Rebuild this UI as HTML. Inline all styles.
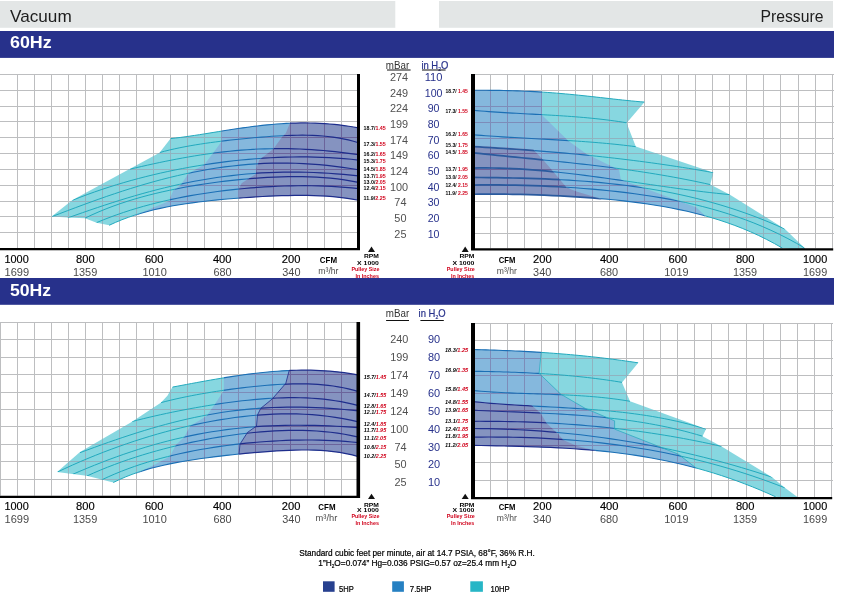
<!DOCTYPE html>
<html lang="en"><head><meta charset="utf-8"><title>Vacuum / Pressure performance curves</title>
<style>html,body{margin:0;padding:0;background:#fff}svg{display:block;will-change:transform}text{font-family:"Liberation Sans", sans-serif}</style>
</head><body>
<svg width="841" height="596" viewBox="0 0 841 596">
<rect width="841" height="596" fill="#fff"/>
<rect x="0" y="1" width="395.3" height="26.8" fill="#e3e6e6"/>
<rect x="439" y="1" width="394" height="26.8" fill="#e3e6e6"/>
<rect x="0" y="31" width="834" height="26.9" fill="#27318b"/>
<rect x="0" y="278" width="834" height="26.8" fill="#27318b"/>
<text x="10" y="21.5" font-size="16.6" fill="#1d1d1d" textLength="61.7" lengthAdjust="spacingAndGlyphs">Vacuum</text>
<text x="823.4" y="21.5" font-size="16.6" fill="#1d1d1d" text-anchor="end" textLength="63" lengthAdjust="spacingAndGlyphs">Pressure</text>
<text x="10" y="48.4" font-size="15.8" fill="#fff" font-weight="bold" textLength="41.7" lengthAdjust="spacingAndGlyphs">60Hz</text>
<text x="10" y="296.4" font-size="15.8" fill="#fff" font-weight="bold" textLength="41.2" lengthAdjust="spacingAndGlyphs">50Hz</text>
<defs><path id="gv60" d="M17.5 74V248M34.5 74V248M51.5 74V248M68.5 74V248M85.5 74V248M102.5 74V248M119.5 74V248M136.5 74V248M153.5 74V248M170.5 74V248M187.5 74V248M204.5 74V248M221.5 74V248M238.5 74V248M256.5 74V248M273.5 74V248M290.5 74V248M307.5 74V248M324.5 74V248M341.5 74V248M0 74.5H357M0 90.5H357M0 106.5H357M0 121.5H357M0 137.5H357M0 153.5H357M0 169.5H357M0 185.5H357M0 201.5H357M0 216.5H357M0 232.5H357"/></defs>
<use href="#gv60" stroke="#bdbec0" stroke-width="1" fill="none"/>
<defs><path id="gp60" d="M490.5 74V248.3M507.5 74V248.3M524.5 74V248.3M541.5 74V248.3M558.5 74V248.3M575.5 74V248.3M592.5 74V248.3M609.5 74V248.3M627.5 74V248.3M644.5 74V248.3M661.5 74V248.3M678.5 74V248.3M695.5 74V248.3M712.5 74V248.3M729.5 74V248.3M746.5 74V248.3M763.5 74V248.3M780.5 74V248.3M798.5 74V248.3M815.5 74V248.3M832.5 74V248.3M475 74.5H834M475 90.5H834M475 106.5H834M475 122.5H834M475 138.5H834M475 153.5H834M475 169.5H834M475 185.5H834M475 201.5H834M475 217.5H834M475 233.5H834"/></defs>
<use href="#gp60" stroke="#bdbec0" stroke-width="1" fill="none"/>
<defs><path id="gv50" d="M0.5 322V495.7M17.5 322V495.7M34.5 322V495.7M51.5 322V495.7M68.5 322V495.7M85.5 322V495.7M102.5 322V495.7M119.5 322V495.7M136.5 322V495.7M153.5 322V495.7M170.5 322V495.7M187.5 322V495.7M204.5 322V495.7M221.5 322V495.7M238.5 322V495.7M255.5 322V495.7M272.5 322V495.7M290.5 322V495.7M307.5 322V495.7M324.5 322V495.7M341.5 322V495.7M0 322.5H357M0 339.5H357M0 357.5H357M0 374.5H357M0 392.5H357M0 409.5H357M0 426.5H357M0 444.5H357M0 461.5H357M0 479.5H357"/></defs>
<use href="#gv50" stroke="#bdbec0" stroke-width="1" fill="none"/>
<defs><path id="gp50" d="M490.5 323V497M507.5 323V497M524.5 323V497M541.5 323V497M558.5 323V497M575.5 323V497M592.5 323V497M609.5 323V497M626.5 323V497M643.5 323V497M660.5 323V497M677.5 323V497M694.5 323V497M711.5 323V497M728.5 323V497M746.5 323V497M763.5 323V497M780.5 323V497M797.5 323V497M814.5 323V497M831.5 323V497M475 323.5H833M475 340.5H833M475 358.5H833M475 375.5H833M475 393.5H833M475 410.5H833M475 428.5H833M475 445.5H833M475 462.5H833M475 480.5H833"/></defs>
<use href="#gp50" stroke="#bdbec0" stroke-width="1" fill="none"/>
<defs>
<path id="bv60" d="M358.5 127.84 L353.68 126.99 L348.86 126.23 L344.05 125.54 L339.23 124.94 L334.41 124.42 L329.59 123.98 L324.77 123.62 L319.96 123.33 L315.14 123.13 L310.32 122.99 L305.5 122.94 L300.68 122.95 L295.87 123.04 L291.05 123.19 L286.23 123.41 L281.41 123.69 L276.59 124.04 L271.78 124.44 L266.96 124.89 L262.14 125.4 L257.32 125.95 L252.51 126.54 L247.69 127.18 L242.87 127.85 L238.05 128.55 L233.23 129.28 L228.42 130.02 L223.6 130.79 L218.78 131.56 L213.96 132.34 L209.14 133.12 L204.33 133.9 L199.51 134.66 L194.69 135.4 L189.87 136.12 L185.05 136.81 L180.24 137.46 L175.42 138.06 L170.6 138.61 L30 69 L30 254 L109.1 225.32 L115.49 222.4 L121.89 219.75 L128.28 217.35 L134.68 215.18 L141.07 213.21 L147.47 211.42 L153.86 209.81 L160.26 208.35 L166.65 207.02 L173.05 205.82 L179.44 204.73 L185.84 203.74 L192.23 202.83 L198.63 202 L205.02 201.23 L211.42 200.53 L217.81 199.88 L224.21 199.28 L230.6 198.72 L237 198.2 L243.39 197.73 L249.79 197.29 L256.18 196.88 L262.58 196.52 L268.97 196.2 L275.37 195.93 L281.76 195.7 L288.16 195.54 L294.55 195.44 L300.95 195.4 L307.34 195.45 L313.74 195.6 L320.13 195.84 L326.53 196.2 L332.92 196.69 L339.32 197.33 L345.71 198.13 L352.11 199.1 L358.5 200.27 Z"/>
<clipPath id="p10v60"><polygon points="362,100 170.6,100 170.6,138.6 159.5,152.7 72.5,200 51.65,216.6 67.5,217.4 85,218.3 96.6,222.7 109.1,225.2 109.1,262 362,262"/></clipPath>
<clipPath id="p75v60"><polygon points="362,100 221.4,100 221.4,141.7 212.8,153.4 204.4,164.4 188.4,173.6 180.8,185 173.3,190.5 170,198.2 170,200.8 152,208.06 133,216.33 133,262 362,262"/></clipPath>
<clipPath id="p5v60"><polygon points="362,100 289.9,100 289.9,123.3 285.8,133.3 282.4,136.6 273.3,149.1 259.1,159.9 256.6,168.3 255.8,174.1 241.6,183.2 239.1,188.2 239.1,262 362,262"/></clipPath>
<clipPath id="cbv60"><use href="#bv60"/></clipPath>
<clipPath id="x10v60"><path clip-rule="evenodd" d="M362 100 L170.6 100 L170.6 138.6 L159.5 152.7 L72.5 200 L51.65 216.6 L67.5 217.4 L85 218.3 L96.6 222.7 L109.1 225.2 L109.1 262 L362 262ZM362 100 L221.4 100 L221.4 141.7 L212.8 153.4 L204.4 164.4 L188.4 173.6 L180.8 185 L173.3 190.5 L170 198.2 L170 200.8 L152 208.06 L133 216.33 L133 262 L362 262Z"/></clipPath>
<clipPath id="x75v60"><path clip-rule="evenodd" d="M362 100 L221.4 100 L221.4 141.7 L212.8 153.4 L204.4 164.4 L188.4 173.6 L180.8 185 L173.3 190.5 L170 198.2 L170 200.8 L152 208.06 L133 216.33 L133 262 L362 262ZM362 100 L289.9 100 L289.9 123.3 L285.8 133.3 L282.4 136.6 L273.3 149.1 L259.1 159.9 L256.6 168.3 L255.8 174.1 L241.6 183.2 L239.1 188.2 L239.1 262 L362 262Z"/></clipPath>
<path id="cv60" d="M358.5 127.84 L353.68 126.99 L348.86 126.23 L344.05 125.54 L339.23 124.94 L334.41 124.42 L329.59 123.98 L324.77 123.62 L319.96 123.33 L315.14 123.13 L310.32 122.99 L305.5 122.94 L300.68 122.95 L295.87 123.04 L291.05 123.19 L286.23 123.41 L281.41 123.69 L276.59 124.04 L271.78 124.44 L266.96 124.89 L262.14 125.4 L257.32 125.95 L252.51 126.54 L247.69 127.18 L242.87 127.85 L238.05 128.55 L233.23 129.28 L228.42 130.02 L223.6 130.79 L218.78 131.56 L213.96 132.34 L209.14 133.12 L204.33 133.9 L199.51 134.66 L194.69 135.4 L189.87 136.12 L185.05 136.81 L180.24 137.46 L175.42 138.06 L170.6 138.61M358.5 142.73 L353.4 141.22 L348.29 139.92 L343.19 138.82 L338.09 137.89 L332.99 137.12 L327.88 136.5 L322.78 136.02 L317.68 135.66 L312.58 135.42 L307.47 135.27 L302.37 135.22 L297.27 135.25 L292.17 135.35 L287.06 135.51 L281.96 135.73 L276.86 136.01 L271.76 136.32 L266.65 136.68 L261.55 137.08 L256.45 137.51 L251.35 137.96 L246.24 138.45 L241.14 138.96 L236.04 139.5 L230.94 140.06 L225.83 140.66 L220.73 141.28 L215.63 141.93 L210.53 142.61 L205.42 143.34 L200.32 144.11 L195.22 144.92 L190.12 145.79 L185.01 146.72 L179.91 147.73 L174.81 148.8 L169.71 149.97 L164.6 151.23 L159.5 152.6M358.5 154.78 L352.64 153.91 L346.78 153.11 L340.92 152.37 L335.06 151.69 L329.21 151.07 L323.35 150.52 L317.49 150.04 L311.63 149.62 L305.77 149.28 L299.91 149 L294.05 148.79 L288.19 148.66 L282.33 148.6 L276.47 148.61 L270.62 148.69 L264.76 148.84 L258.9 149.06 L253.04 149.36 L247.18 149.72 L241.32 150.16 L235.46 150.66 L229.6 151.22 L223.74 151.86 L217.88 152.55 L212.03 153.31 L206.17 154.13 L200.31 155.01 L194.45 155.94 L188.59 156.93 L182.73 157.97 L176.87 159.06 L171.01 160.19 L165.15 161.37 L159.29 162.59 L153.44 163.84 L147.58 165.12 L141.72 166.44 L135.86 167.78 L130 169.14M358.5 160.03 L351.17 159.25 L343.83 158.59 L336.5 158.04 L329.17 157.61 L321.83 157.28 L314.5 157.06 L307.17 156.94 L299.83 156.92 L292.5 156.99 L285.17 157.16 L277.83 157.42 L270.5 157.77 L263.17 158.2 L255.83 158.72 L248.5 159.33 L241.17 160.02 L233.83 160.8 L226.5 161.65 L219.17 162.59 L211.83 163.61 L204.5 164.71 L197.17 165.9 L189.83 167.17 L182.5 168.52 L175.17 169.96 L167.83 171.49 L160.5 173.1 L153.17 174.8 L145.83 176.6 L138.5 178.49 L131.17 180.48 L123.83 182.57 L116.5 184.76 L109.17 187.05 L101.83 189.46 L94.5 191.98 L87.17 194.62 L79.83 197.38 L72.5 200.26M358.5 169.78 L350.63 168.48 L342.76 167.32 L334.9 166.3 L327.03 165.41 L319.16 164.66 L311.29 164.06 L303.42 163.59 L295.56 163.27 L287.69 163.1 L279.82 163.07 L271.95 163.18 L264.08 163.44 L256.22 163.85 L248.35 164.4 L240.48 165.1 L232.61 165.94 L224.74 166.91 L216.88 168.03 L209.01 169.28 L201.14 170.67 L193.27 172.19 L185.41 173.84 L177.54 175.61 L169.67 177.5 L161.8 179.51 L153.93 181.63 L146.07 183.85 L138.2 186.18 L130.33 188.6 L122.46 191.12 L114.59 193.72 L106.73 196.39 L98.86 199.14 L90.99 201.96 L83.12 204.83 L75.25 207.75 L67.39 210.71 L59.52 213.7 L51.65 216.72M358.5 175.82 L351.04 175.06 L343.58 174.39 L336.12 173.79 L328.65 173.27 L321.19 172.85 L313.73 172.51 L306.27 172.27 L298.81 172.13 L291.35 172.09 L283.88 172.15 L276.42 172.31 L268.96 172.58 L261.5 172.96 L254.04 173.45 L246.58 174.05 L239.12 174.76 L231.65 175.58 L224.19 176.51 L216.73 177.55 L209.27 178.7 L201.81 179.96 L194.35 181.33 L186.88 182.8 L179.42 184.37 L171.96 186.05 L164.5 187.82 L157.04 189.69 L149.58 191.65 L142.12 193.69 L134.65 195.83 L127.19 198.04 L119.73 200.33 L112.27 202.69 L104.81 205.11 L97.35 207.6 L89.88 210.14 L82.42 212.72 L74.96 215.35 L67.5 218.01M358.5 182.41 L351.49 181.06 L344.47 179.91 L337.46 178.96 L330.45 178.19 L323.44 177.58 L316.42 177.13 L309.41 176.82 L302.4 176.64 L295.38 176.58 L288.37 176.63 L281.36 176.79 L274.35 177.05 L267.33 177.4 L260.32 177.83 L253.31 178.35 L246.29 178.94 L239.28 179.61 L232.27 180.35 L225.26 181.16 L218.24 182.04 L211.23 183 L204.22 184.02 L197.21 185.12 L190.19 186.3 L183.18 187.57 L176.17 188.92 L169.15 190.36 L162.14 191.9 L155.13 193.55 L148.12 195.31 L141.1 197.2 L134.09 199.22 L127.08 201.38 L120.06 203.71 L113.05 206.2 L106.04 208.87 L99.03 211.74 L92.01 214.82 L85 218.13M358.5 188.58 L351.78 187.89 L345.07 187.3 L338.35 186.81 L331.64 186.42 L324.92 186.12 L318.21 185.9 L311.49 185.77 L304.78 185.72 L298.06 185.74 L291.35 185.84 L284.63 186.02 L277.92 186.26 L271.2 186.57 L264.48 186.95 L257.77 187.4 L251.05 187.91 L244.34 188.49 L237.62 189.14 L230.91 189.85 L224.19 190.64 L217.48 191.49 L210.76 192.42 L204.05 193.42 L197.33 194.5 L190.62 195.66 L183.9 196.9 L177.18 198.22 L170.47 199.64 L163.75 201.15 L157.04 202.75 L150.32 204.47 L143.61 206.29 L136.89 208.23 L130.18 210.28 L123.46 212.47 L116.75 214.79 L110.03 217.24 L103.32 219.85 L96.6 222.62M358.5 200.27 L352.11 199.1 L345.71 198.13 L339.32 197.33 L332.92 196.69 L326.53 196.2 L320.13 195.84 L313.74 195.6 L307.34 195.45 L300.95 195.4 L294.55 195.44 L288.16 195.54 L281.76 195.7 L275.37 195.93 L268.97 196.2 L262.58 196.52 L256.18 196.88 L249.79 197.29 L243.39 197.73 L237 198.2 L230.6 198.72 L224.21 199.28 L217.81 199.88 L211.42 200.53 L205.02 201.23 L198.63 202 L192.23 202.83 L185.84 203.74 L179.44 204.73 L173.05 205.82 L166.65 207.02 L160.26 208.35 L153.86 209.81 L147.47 211.42 L141.07 213.21 L134.68 215.18 L128.28 217.35 L121.89 219.75 L115.49 222.4 L109.1 225.32" fill="none"/>
</defs>
<g opacity="0.56" clip-path="url(#p10v60)">
<use href="#bv60" fill="#29b8c8"/>
<g clip-path="url(#p75v60)"><use href="#bv60" fill="#2680c2"/></g>
<g clip-path="url(#p5v60)"><use href="#bv60" fill="#27408f"/></g>
</g>
<g clip-path="url(#cbv60)" fill="none" stroke-width="1"><g clip-path="url(#p10v60)">
<use href="#gv60" stroke="#8fb3c0"/>
<g clip-path="url(#p75v60)"><use href="#gv60" stroke="#7d8cb9"/>
<g clip-path="url(#p5v60)"><use href="#gv60" stroke="#6b649b"/></g></g>
</g></g>
<g stroke-linecap="butt">
<g clip-path="url(#x10v60)"><use href="#cv60" stroke="#22a9bd" stroke-width="1"/></g>
<g clip-path="url(#x75v60)"><use href="#cv60" stroke="#1b6fb5" stroke-width="1.1"/></g>
<g clip-path="url(#p5v60)"><use href="#cv60" stroke="#1e2d8c" stroke-width="1.2"/></g>
</g>
<defs>
<path id="bv50" d="M358.5 375.08 L353.73 374.19 L348.96 373.41 L344.18 372.71 L339.41 372.11 L334.64 371.59 L329.87 371.15 L325.1 370.8 L320.33 370.53 L315.55 370.33 L310.78 370.21 L306.01 370.15 L301.24 370.17 L296.47 370.25 L291.69 370.4 L286.92 370.6 L282.15 370.87 L277.38 371.19 L272.61 371.56 L267.84 371.98 L263.06 372.46 L258.29 372.97 L253.52 373.53 L248.75 374.13 L243.98 374.77 L239.21 375.44 L234.43 376.14 L229.66 376.88 L224.89 377.64 L220.12 378.43 L215.35 379.24 L210.57 380.07 L205.8 380.91 L201.03 381.78 L196.26 382.65 L191.49 383.53 L186.72 384.43 L181.94 385.32 L177.17 386.22 L172.4 387.12 L30 317 L30 502 L113.2 482.56 L119.49 479.54 L125.78 476.82 L132.07 474.36 L138.36 472.14 L144.65 470.14 L150.94 468.33 L157.23 466.69 L163.52 465.2 L169.81 463.84 L176.1 462.61 L182.39 461.47 L188.68 460.42 L194.97 459.45 L201.26 458.55 L207.55 457.69 L213.84 456.89 L220.13 456.13 L226.42 455.41 L232.71 454.72 L238.99 454.06 L245.28 453.44 L251.57 452.85 L257.86 452.29 L264.15 451.78 L270.44 451.32 L276.73 450.9 L283.02 450.55 L289.31 450.28 L295.6 450.09 L301.89 450 L308.18 450.02 L314.47 450.17 L320.76 450.47 L327.05 450.93 L333.34 451.59 L339.63 452.45 L345.92 453.55 L352.21 454.9 L358.5 456.55 Z"/>
<clipPath id="p10v50"><polygon points="362,340 172.4,340 172.4,387.1 167.4,395.8 160.8,402.8 131.6,422 80,451.9 57.1,471.9 72.5,474.1 86.6,475.7 101.6,479.6 113.2,482.4 113.2,510 362,510"/></clipPath>
<clipPath id="p75v50"><polygon points="362,340 223.8,340 223.8,390.5 215.4,403.6 206.6,416.1 190.2,426.1 184.4,436.8 175.8,444.9 169.9,456.5 153,465.57 135.5,473.72 135.5,510 362,510"/></clipPath>
<clipPath id="p5v50"><polygon points="362,340 289.1,340 289.1,370.8 285.8,383.3 272.4,398.8 260.8,408.3 257.5,414.9 256.5,426 247.5,432.4 240,444.1 239.1,453.3 239.1,510 362,510"/></clipPath>
<clipPath id="cbv50"><use href="#bv50"/></clipPath>
<clipPath id="x10v50"><path clip-rule="evenodd" d="M362 340 L172.4 340 L172.4 387.1 L167.4 395.8 L160.8 402.8 L131.6 422 L80 451.9 L57.1 471.9 L72.5 474.1 L86.6 475.7 L101.6 479.6 L113.2 482.4 L113.2 510 L362 510ZM362 340 L223.8 340 L223.8 390.5 L215.4 403.6 L206.6 416.1 L190.2 426.1 L184.4 436.8 L175.8 444.9 L169.9 456.5 L153 465.57 L135.5 473.72 L135.5 510 L362 510Z"/></clipPath>
<clipPath id="x75v50"><path clip-rule="evenodd" d="M362 340 L223.8 340 L223.8 390.5 L215.4 403.6 L206.6 416.1 L190.2 426.1 L184.4 436.8 L175.8 444.9 L169.9 456.5 L153 465.57 L135.5 473.72 L135.5 510 L362 510ZM362 340 L289.1 340 L289.1 370.8 L285.8 383.3 L272.4 398.8 L260.8 408.3 L257.5 414.9 L256.5 426 L247.5 432.4 L240 444.1 L239.1 453.3 L239.1 510 L362 510Z"/></clipPath>
<path id="cv50" d="M358.5 375.08 L353.73 374.19 L348.96 373.41 L344.18 372.71 L339.41 372.11 L334.64 371.59 L329.87 371.15 L325.1 370.8 L320.33 370.53 L315.55 370.33 L310.78 370.21 L306.01 370.15 L301.24 370.17 L296.47 370.25 L291.69 370.4 L286.92 370.6 L282.15 370.87 L277.38 371.19 L272.61 371.56 L267.84 371.98 L263.06 372.46 L258.29 372.97 L253.52 373.53 L248.75 374.13 L243.98 374.77 L239.21 375.44 L234.43 376.14 L229.66 376.88 L224.89 377.64 L220.12 378.43 L215.35 379.24 L210.57 380.07 L205.8 380.91 L201.03 381.78 L196.26 382.65 L191.49 383.53 L186.72 384.43 L181.94 385.32 L177.17 386.22 L172.4 387.12M358.5 391.6 L353.43 390.14 L348.36 388.86 L343.29 387.75 L338.22 386.81 L333.15 386.01 L328.08 385.36 L323.02 384.84 L317.95 384.44 L312.88 384.15 L307.81 383.96 L302.74 383.86 L297.67 383.86 L292.6 383.93 L287.53 384.08 L282.46 384.29 L277.39 384.57 L272.32 384.9 L267.25 385.29 L262.18 385.72 L257.12 386.2 L252.05 386.72 L246.98 387.28 L241.91 387.87 L236.84 388.5 L231.77 389.16 L226.7 389.86 L221.63 390.59 L216.56 391.36 L211.49 392.16 L206.42 393 L201.35 393.87 L196.28 394.79 L191.22 395.75 L186.15 396.76 L181.08 397.82 L176.01 398.94 L170.94 400.12 L165.87 401.37 L160.8 402.68M358.5 405.65 L352.68 404.17 L346.86 402.86 L341.05 401.71 L335.23 400.73 L329.41 399.91 L323.59 399.22 L317.77 398.67 L311.96 398.25 L306.14 397.95 L300.32 397.76 L294.5 397.68 L288.68 397.7 L282.87 397.81 L277.05 398.01 L271.23 398.3 L265.41 398.66 L259.59 399.1 L253.78 399.61 L247.96 400.18 L242.14 400.81 L236.32 401.5 L230.51 402.24 L224.69 403.04 L218.87 403.88 L213.05 404.77 L207.23 405.71 L201.42 406.69 L195.6 407.71 L189.78 408.77 L183.96 409.87 L178.14 411.01 L172.33 412.19 L166.51 413.41 L160.69 414.67 L154.87 415.98 L149.05 417.32 L143.24 418.71 L137.42 420.15 L131.6 421.64M358.5 410.9 L351.36 410.17 L344.22 409.5 L337.08 408.9 L329.94 408.38 L322.79 407.94 L315.65 407.59 L308.51 407.33 L301.37 407.17 L294.23 407.1 L287.09 407.14 L279.95 407.28 L272.81 407.52 L265.67 407.88 L258.53 408.34 L251.38 408.91 L244.24 409.6 L237.1 410.4 L229.96 411.31 L222.82 412.33 L215.68 413.46 L208.54 414.71 L201.4 416.06 L194.26 417.53 L187.12 419.09 L179.97 420.76 L172.83 422.53 L165.69 424.4 L158.55 426.36 L151.41 428.4 L144.27 430.54 L137.13 432.75 L129.99 435.04 L122.85 437.4 L115.71 439.82 L108.56 442.3 L101.42 444.83 L94.28 447.41 L87.14 450.02 L80 452.66M358.5 421.95 L350.77 420.18 L343.04 418.64 L335.32 417.34 L327.59 416.25 L319.86 415.38 L312.13 414.71 L304.4 414.24 L296.67 413.95 L288.95 413.84 L281.22 413.91 L273.49 414.14 L265.76 414.53 L258.03 415.07 L250.31 415.76 L242.58 416.59 L234.85 417.56 L227.12 418.67 L219.39 419.9 L211.66 421.26 L203.94 422.74 L196.21 424.34 L188.48 426.05 L180.75 427.88 L173.02 429.82 L165.29 431.87 L157.57 434.03 L149.84 436.3 L142.11 438.68 L134.38 441.17 L126.65 443.76 L118.93 446.46 L111.2 449.27 L103.47 452.19 L95.74 455.23 L88.01 458.38 L80.28 461.65 L72.56 465.04 L64.83 468.55 L57.1 472.19M358.5 427.53 L351.17 427.06 L343.83 426.62 L336.5 426.23 L329.17 425.9 L321.83 425.63 L314.5 425.42 L307.17 425.29 L299.83 425.23 L292.5 425.25 L285.17 425.35 L277.83 425.54 L270.5 425.83 L263.17 426.21 L255.83 426.69 L248.5 427.28 L241.17 427.97 L233.83 428.76 L226.5 429.67 L219.17 430.68 L211.83 431.81 L204.5 433.05 L197.17 434.41 L189.83 435.88 L182.5 437.47 L175.17 439.17 L167.83 440.99 L160.5 442.92 L153.17 444.96 L145.83 447.12 L138.5 449.39 L131.17 451.77 L123.83 454.25 L116.5 456.84 L109.17 459.53 L101.83 462.32 L94.5 465.21 L87.17 468.19 L79.83 471.25 L72.5 474.41M358.5 437.09 L351.53 435.57 L344.56 434.26 L337.58 433.16 L330.61 432.26 L323.64 431.54 L316.67 431 L309.7 430.62 L302.73 430.4 L295.75 430.32 L288.78 430.38 L281.81 430.57 L274.84 430.89 L267.87 431.31 L260.89 431.85 L253.92 432.49 L246.95 433.24 L239.98 434.07 L233.01 435.01 L226.04 436.03 L219.06 437.13 L212.09 438.33 L205.12 439.6 L198.15 440.96 L191.18 442.41 L184.21 443.94 L177.23 445.56 L170.26 447.26 L163.29 449.06 L156.32 450.95 L149.35 452.93 L142.37 455.02 L135.4 457.22 L128.43 459.53 L121.46 461.96 L114.49 464.52 L107.52 467.21 L100.54 470.04 L93.57 473.02 L86.6 476.16M358.5 442.67 L351.91 441.98 L345.33 441.4 L338.74 440.93 L332.15 440.57 L325.56 440.29 L318.98 440.11 L312.39 440.02 L305.8 440.01 L299.22 440.07 L292.63 440.22 L286.04 440.44 L279.45 440.73 L272.87 441.08 L266.28 441.51 L259.69 442.01 L253.11 442.57 L246.52 443.2 L239.93 443.89 L233.34 444.66 L226.76 445.49 L220.17 446.4 L213.58 447.38 L206.99 448.44 L200.41 449.58 L193.82 450.8 L187.23 452.11 L180.65 453.52 L174.06 455.02 L167.47 456.62 L160.88 458.34 L154.3 460.17 L147.71 462.12 L141.12 464.2 L134.54 466.42 L127.95 468.79 L121.36 471.31 L114.77 473.99 L108.19 476.85 L101.6 479.89M358.5 456.55 L352.21 454.9 L345.92 453.55 L339.63 452.45 L333.34 451.59 L327.05 450.93 L320.76 450.47 L314.47 450.17 L308.18 450.02 L301.89 450 L295.6 450.09 L289.31 450.28 L283.02 450.55 L276.73 450.9 L270.44 451.32 L264.15 451.78 L257.86 452.29 L251.57 452.85 L245.28 453.44 L238.99 454.06 L232.71 454.72 L226.42 455.41 L220.13 456.13 L213.84 456.89 L207.55 457.69 L201.26 458.55 L194.97 459.45 L188.68 460.42 L182.39 461.47 L176.1 462.61 L169.81 463.84 L163.52 465.2 L157.23 466.69 L150.94 468.33 L144.65 470.14 L138.36 472.14 L132.07 474.36 L125.78 476.82 L119.49 479.54 L113.2 482.56" fill="none"/>
</defs>
<g opacity="0.56" clip-path="url(#p10v50)">
<use href="#bv50" fill="#29b8c8"/>
<g clip-path="url(#p75v50)"><use href="#bv50" fill="#2680c2"/></g>
<g clip-path="url(#p5v50)"><use href="#bv50" fill="#27408f"/></g>
</g>
<g clip-path="url(#cbv50)" fill="none" stroke-width="1"><g clip-path="url(#p10v50)">
<use href="#gv50" stroke="#8fb3c0"/>
<g clip-path="url(#p75v50)"><use href="#gv50" stroke="#7d8cb9"/>
<g clip-path="url(#p5v50)"><use href="#gv50" stroke="#6b649b"/></g></g>
</g></g>
<g stroke-linecap="butt">
<g clip-path="url(#x10v50)"><use href="#cv50" stroke="#22a9bd" stroke-width="1"/></g>
<g clip-path="url(#x75v50)"><use href="#cv50" stroke="#1b6fb5" stroke-width="1.1"/></g>
<g clip-path="url(#p5v50)"><use href="#cv50" stroke="#1e2d8c" stroke-width="1.2"/></g>
</g>
<g clip-path="url(#cbv50)"><polygon points="362,340 289.1,340 289.1,370.8 285.8,383.3 272.4,398.8 260.8,408.3 257.5,414.9 256.5,426 247.5,432.4 240,444.1 239.1,453.3 239.1,510 362,510" fill="none" stroke="#1e2d8c" stroke-width="0.8"/></g>
<defs>
<path id="bp60" d="M473 90.31 L477.4 90.3 L481.8 90.3 L486.2 90.3 L490.6 90.33 L495 90.36 L499.4 90.42 L503.8 90.49 L508.2 90.59 L512.6 90.7 L517 90.84 L521.4 91 L525.8 91.18 L530.2 91.39 L534.6 91.62 L539 91.88 L543.4 92.16 L547.8 92.46 L552.2 92.79 L556.6 93.14 L561 93.51 L565.4 93.9 L569.8 94.31 L574.2 94.74 L578.6 95.18 L583 95.64 L587.4 96.11 L591.8 96.59 L596.2 97.08 L600.6 97.58 L605 98.07 L609.4 98.57 L613.8 99.06 L618.2 99.55 L622.6 100.02 L627 100.48 L631.4 100.92 L635.8 101.34 L640.2 101.74 L644.6 102.1 L840 69 L840 254 L782.4 248.09 L774.47 243.57 L766.53 239.38 L758.6 235.48 L750.67 231.87 L742.73 228.53 L734.8 225.44 L726.87 222.58 L718.93 219.95 L711 217.52 L703.07 215.28 L695.13 213.23 L687.2 211.33 L679.27 209.6 L671.33 208.01 L663.4 206.55 L655.47 205.21 L647.53 203.99 L639.6 202.87 L631.67 201.85 L623.73 200.91 L615.8 200.06 L607.87 199.28 L599.93 198.58 L592 197.93 L584.07 197.35 L576.13 196.82 L568.2 196.34 L560.27 195.91 L552.33 195.53 L544.4 195.19 L536.47 194.9 L528.53 194.65 L520.6 194.45 L512.67 194.29 L504.73 194.18 L496.8 194.11 L488.87 194.1 L480.93 194.14 L473 194.24 Z"/>
<clipPath id="p10p60"><polygon points="470,60 644.6,60 644.6,102.1 626.6,122.9 635.8,146.6 713.3,172.5 710.3,184.6 729.6,194.6 784.9,229.1 804.9,248.2 804.9,249 470,249"/></clipPath>
<clipPath id="p75p60"><polygon points="470,60 541.9,60 541.9,115 568.2,140.7 586.5,154.1 619.1,170 620.8,179.6 696.5,207.4 704.9,215.8 704.9,262 470,262"/></clipPath>
<clipPath id="p5p60"><polygon points="470,145.41 473.33,145.6 476.66,145.78 479.99,145.97 483.33,146.16 486.66,146.36 489.99,146.56 493.32,146.76 496.65,146.97 499.98,147.18 503.32,147.39 506.65,147.61 509.98,147.83 513.31,148.06 516.64,148.29 519.97,148.52 523.31,148.76 526.64,149 529.97,149.25 533.3,149.5 543.2,159.9 548.2,165.8 558.2,177.5 566.5,187.5 576.5,191.6 601.5,199.1 601.5,262 470,262"/></clipPath>
<clipPath id="cbp60"><use href="#bp60"/></clipPath>
<clipPath id="x10p60"><path clip-rule="evenodd" d="M470 60 L644.6 60 L644.6 102.1 L626.6 122.9 L635.8 146.6 L713.3 172.5 L710.3 184.6 L729.6 194.6 L784.9 229.1 L804.9 248.2 L804.9 249 L470 249ZM470 60 L541.9 60 L541.9 115 L568.2 140.7 L586.5 154.1 L619.1 170 L620.8 179.6 L696.5 207.4 L704.9 215.8 L704.9 262 L470 262Z"/></clipPath>
<clipPath id="x75p60"><path clip-rule="evenodd" d="M470 60 L541.9 60 L541.9 115 L568.2 140.7 L586.5 154.1 L619.1 170 L620.8 179.6 L696.5 207.4 L704.9 215.8 L704.9 262 L470 262ZM470 145.41 L473.33 145.6 L476.66 145.78 L479.99 145.97 L483.33 146.16 L486.66 146.36 L489.99 146.56 L493.32 146.76 L496.65 146.97 L499.98 147.18 L503.32 147.39 L506.65 147.61 L509.98 147.83 L513.31 148.06 L516.64 148.29 L519.97 148.52 L523.31 148.76 L526.64 149 L529.97 149.25 L533.3 149.5 L543.2 159.9 L548.2 165.8 L558.2 177.5 L566.5 187.5 L576.5 191.6 L601.5 199.1 L601.5 262 L470 262Z"/></clipPath>
<path id="cp60" d="M473 90.31 L477.4 90.3 L481.8 90.3 L486.2 90.3 L490.6 90.33 L495 90.36 L499.4 90.42 L503.8 90.49 L508.2 90.59 L512.6 90.7 L517 90.84 L521.4 91 L525.8 91.18 L530.2 91.39 L534.6 91.62 L539 91.88 L543.4 92.16 L547.8 92.46 L552.2 92.79 L556.6 93.14 L561 93.51 L565.4 93.9 L569.8 94.31 L574.2 94.74 L578.6 95.18 L583 95.64 L587.4 96.11 L591.8 96.59 L596.2 97.08 L600.6 97.58 L605 98.07 L609.4 98.57 L613.8 99.06 L618.2 99.55 L622.6 100.02 L627 100.48 L631.4 100.92 L635.8 101.34 L640.2 101.74 L644.6 102.1M473 110.32 L476.94 110.66 L480.88 110.99 L484.82 111.3 L488.75 111.59 L492.69 111.87 L496.63 112.13 L500.57 112.39 L504.51 112.63 L508.45 112.86 L512.38 113.08 L516.32 113.3 L520.26 113.52 L524.2 113.72 L528.14 113.93 L532.08 114.14 L536.02 114.35 L539.95 114.56 L543.89 114.77 L547.83 115 L551.77 115.22 L555.71 115.46 L559.65 115.7 L563.58 115.96 L567.52 116.23 L571.46 116.51 L575.4 116.81 L579.34 117.13 L583.28 117.46 L587.22 117.81 L591.15 118.19 L595.09 118.59 L599.03 119.01 L602.97 119.46 L606.91 119.93 L610.85 120.44 L614.78 120.97 L618.72 121.54 L622.66 122.14 L626.6 122.77M473 134.75 L477.17 135.08 L481.35 135.41 L485.52 135.71 L489.7 136.01 L493.87 136.29 L498.05 136.56 L502.22 136.83 L506.39 137.08 L510.57 137.33 L514.74 137.57 L518.92 137.8 L523.09 138.03 L527.27 138.26 L531.44 138.48 L535.62 138.71 L539.79 138.93 L543.96 139.16 L548.14 139.39 L552.31 139.62 L556.49 139.85 L560.66 140.1 L564.84 140.34 L569.01 140.6 L573.18 140.87 L577.36 141.14 L581.53 141.43 L585.71 141.73 L589.88 142.04 L594.06 142.37 L598.23 142.71 L602.41 143.07 L606.58 143.45 L610.75 143.85 L614.93 144.26 L619.1 144.7 L623.28 145.16 L627.45 145.65 L631.63 146.15 L635.8 146.69M473 146.58 L479.16 146.92 L485.32 147.28 L491.48 147.65 L497.65 148.03 L503.81 148.42 L509.97 148.83 L516.13 149.25 L522.29 149.68 L528.45 150.13 L534.62 150.6 L540.78 151.08 L546.94 151.58 L553.1 152.09 L559.26 152.62 L565.42 153.16 L571.58 153.73 L577.75 154.31 L583.91 154.91 L590.07 155.53 L596.23 156.17 L602.39 156.83 L608.55 157.51 L614.72 158.21 L620.88 158.93 L627.04 159.68 L633.2 160.44 L639.36 161.23 L645.52 162.04 L651.68 162.87 L657.85 163.73 L664.01 164.61 L670.17 165.52 L676.33 166.45 L682.49 167.41 L688.65 168.39 L694.82 169.4 L700.98 170.43 L707.14 171.5 L713.3 172.59M473 152.8 L479.08 153.44 L485.17 154.07 L491.25 154.69 L497.34 155.31 L503.42 155.92 L509.51 156.53 L515.59 157.14 L521.68 157.75 L527.76 158.35 L533.85 158.96 L539.93 159.58 L546.02 160.2 L552.1 160.82 L558.18 161.46 L564.27 162.1 L570.35 162.76 L576.44 163.43 L582.52 164.11 L588.61 164.82 L594.69 165.53 L600.78 166.27 L606.86 167.03 L612.95 167.81 L619.03 168.62 L625.12 169.45 L631.2 170.31 L637.28 171.19 L643.37 172.11 L649.45 173.06 L655.54 174.04 L661.62 175.05 L667.71 176.1 L673.79 177.19 L679.88 178.32 L685.96 179.49 L692.05 180.7 L698.13 181.96 L704.22 183.26 L710.3 184.6M473 168.07 L479.58 167.96 L486.16 167.94 L492.74 168 L499.32 168.13 L505.9 168.34 L512.48 168.62 L519.06 168.97 L525.64 169.38 L532.22 169.85 L538.79 170.38 L545.37 170.96 L551.95 171.59 L558.53 172.27 L565.11 172.98 L571.69 173.74 L578.27 174.54 L584.85 175.36 L591.43 176.22 L598.01 177.1 L604.59 178 L611.17 178.92 L617.75 179.85 L624.33 180.8 L630.91 181.75 L637.49 182.71 L644.07 183.67 L650.65 184.62 L657.23 185.57 L663.81 186.51 L670.38 187.44 L676.96 188.35 L683.54 189.24 L690.12 190.1 L696.7 190.94 L703.28 191.75 L709.86 192.53 L716.44 193.26 L723.02 193.96 L729.6 194.61M473 177.41 L481 177.49 L488.99 177.58 L496.99 177.69 L504.99 177.82 L512.99 177.98 L520.98 178.17 L528.98 178.39 L536.98 178.65 L544.98 178.96 L552.97 179.31 L560.97 179.71 L568.97 180.17 L576.97 180.69 L584.96 181.27 L592.96 181.92 L600.96 182.65 L608.96 183.45 L616.95 184.33 L624.95 185.3 L632.95 186.35 L640.95 187.5 L648.94 188.75 L656.94 190.1 L664.94 191.56 L672.94 193.13 L680.93 194.81 L688.93 196.61 L696.93 198.53 L704.93 200.59 L712.92 202.77 L720.92 205.09 L728.92 207.55 L736.92 210.15 L744.91 212.91 L752.91 215.81 L760.91 218.88 L768.91 222.1 L776.9 225.49 L784.9 229.05M473 185.08 L481.51 184.97 L490.02 184.93 L498.53 184.95 L507.04 185.03 L515.55 185.18 L524.06 185.38 L532.57 185.64 L541.08 185.96 L549.59 186.34 L558.1 186.77 L566.61 187.27 L575.12 187.82 L583.63 188.45 L592.14 189.14 L600.65 189.9 L609.16 190.73 L617.67 191.64 L626.18 192.64 L634.69 193.73 L643.21 194.92 L651.72 196.21 L660.23 197.61 L668.74 199.13 L677.25 200.77 L685.76 202.56 L694.27 204.48 L702.78 206.57 L711.29 208.82 L719.8 211.25 L728.31 213.87 L736.82 216.69 L745.33 219.72 L753.84 222.98 L762.35 226.49 L770.86 230.25 L779.37 234.28 L787.88 238.6 L796.39 243.23 L804.9 248.17M473 194.24 L480.93 194.14 L488.87 194.1 L496.8 194.11 L504.73 194.18 L512.67 194.29 L520.6 194.45 L528.53 194.65 L536.47 194.9 L544.4 195.19 L552.33 195.53 L560.27 195.91 L568.2 196.34 L576.13 196.82 L584.07 197.35 L592 197.93 L599.93 198.58 L607.87 199.28 L615.8 200.06 L623.73 200.91 L631.67 201.85 L639.6 202.87 L647.53 203.99 L655.47 205.21 L663.4 206.55 L671.33 208.01 L679.27 209.6 L687.2 211.33 L695.13 213.23 L703.07 215.28 L711 217.52 L718.93 219.95 L726.87 222.58 L734.8 225.44 L742.73 228.53 L750.67 231.87 L758.6 235.48 L766.53 239.38 L774.47 243.57 L782.4 248.09" fill="none"/>
</defs>
<g opacity="0.56" clip-path="url(#p10p60)">
<use href="#bp60" fill="#29b8c8"/>
<g clip-path="url(#p75p60)"><use href="#bp60" fill="#2680c2"/></g>
<g clip-path="url(#p5p60)"><use href="#bp60" fill="#27408f"/></g>
</g>
<g clip-path="url(#cbp60)" fill="none" stroke-width="1"><g clip-path="url(#p10p60)">
<use href="#gp60" stroke="#8fb3c0"/>
<g clip-path="url(#p75p60)"><use href="#gp60" stroke="#7d8cb9"/>
<g clip-path="url(#p5p60)"><use href="#gp60" stroke="#6b649b"/></g></g>
</g></g>
<g stroke-linecap="butt">
<g clip-path="url(#x10p60)"><use href="#cp60" stroke="#22a9bd" stroke-width="1"/></g>
<g clip-path="url(#x75p60)"><use href="#cp60" stroke="#1b6fb5" stroke-width="1.1"/></g>
<g clip-path="url(#p5p60)"><use href="#cp60" stroke="#2a5a9e" stroke-width="1.7"/></g>
</g>
<defs>
<path id="bp50" d="M473 349.57 L477.24 349.66 L481.48 349.76 L485.72 349.87 L489.95 350 L494.19 350.13 L498.43 350.28 L502.67 350.43 L506.91 350.6 L511.15 350.78 L515.38 350.97 L519.62 351.17 L523.86 351.39 L528.1 351.62 L532.34 351.86 L536.58 352.11 L540.82 352.38 L545.05 352.66 L549.29 352.96 L553.53 353.27 L557.77 353.6 L562.01 353.94 L566.25 354.29 L570.48 354.66 L574.72 355.05 L578.96 355.45 L583.2 355.86 L587.44 356.3 L591.68 356.75 L595.92 357.21 L600.15 357.7 L604.39 358.2 L608.63 358.72 L612.87 359.25 L617.11 359.81 L621.35 360.38 L625.58 360.97 L629.82 361.59 L634.06 362.21 L638.3 362.86 L840 317 L840 502 L775.7 496.83 L767.94 493.35 L760.18 490.02 L752.42 486.83 L744.65 483.8 L736.89 480.9 L729.13 478.15 L721.37 475.54 L713.61 473.07 L705.85 470.74 L698.08 468.54 L690.32 466.47 L682.56 464.53 L674.8 462.71 L667.04 461.01 L659.28 459.44 L651.52 457.97 L643.75 456.62 L635.99 455.38 L628.23 454.23 L620.47 453.19 L612.71 452.24 L604.95 451.38 L597.18 450.61 L589.42 449.91 L581.66 449.29 L573.9 448.74 L566.14 448.26 L558.38 447.83 L550.62 447.46 L542.85 447.13 L535.09 446.85 L527.33 446.6 L519.57 446.38 L511.81 446.18 L504.05 446 L496.28 445.83 L488.52 445.66 L480.76 445.48 L473 445.29 Z"/>
<clipPath id="p10p50"><polygon points="470,340 638.3,340 638.3,362.8 622,382.4 630,401.2 706.1,429.1 702.5,436.2 721.6,446.4 772.4,477.4 784.9,487.7 797.4,496.9 797.4,497.2 470,497.2"/></clipPath>
<clipPath id="p75p50"><polygon points="470,340 541.2,340 541.2,352.5 539.1,373.3 560.7,394.1 584.9,408.2 614.6,420.8 614.6,429.1 678.2,454.1 696.5,468.3 696.5,510 470,510"/></clipPath>
<clipPath id="p5p50"><polygon points="470,400.59 473.24,400.93 476.48,401.26 479.73,401.58 482.97,401.89 486.21,402.18 489.45,402.46 492.69,402.72 495.94,402.98 499.18,403.23 502.42,403.46 505.66,403.69 508.91,403.91 512.15,404.12 515.39,404.32 518.63,404.52 521.87,404.71 525.12,404.9 528.36,405.08 531.6,405.26 539.9,412.4 543.2,417.5 546.6,423.3 558.2,434.1 563.2,440 576.5,445.8 595.7,450.8 595.7,510 470,510"/></clipPath>
<clipPath id="cbp50"><use href="#bp50"/></clipPath>
<clipPath id="x10p50"><path clip-rule="evenodd" d="M470 340 L638.3 340 L638.3 362.8 L622 382.4 L630 401.2 L706.1 429.1 L702.5 436.2 L721.6 446.4 L772.4 477.4 L784.9 487.7 L797.4 496.9 L797.4 497.2 L470 497.2ZM470 340 L541.2 340 L541.2 352.5 L539.1 373.3 L560.7 394.1 L584.9 408.2 L614.6 420.8 L614.6 429.1 L678.2 454.1 L696.5 468.3 L696.5 510 L470 510Z"/></clipPath>
<clipPath id="x75p50"><path clip-rule="evenodd" d="M470 340 L541.2 340 L541.2 352.5 L539.1 373.3 L560.7 394.1 L584.9 408.2 L614.6 420.8 L614.6 429.1 L678.2 454.1 L696.5 468.3 L696.5 510 L470 510ZM470 400.59 L473.24 400.93 L476.48 401.26 L479.73 401.58 L482.97 401.89 L486.21 402.18 L489.45 402.46 L492.69 402.72 L495.94 402.98 L499.18 403.23 L502.42 403.46 L505.66 403.69 L508.91 403.91 L512.15 404.12 L515.39 404.32 L518.63 404.52 L521.87 404.71 L525.12 404.9 L528.36 405.08 L531.6 405.26 L539.9 412.4 L543.2 417.5 L546.6 423.3 L558.2 434.1 L563.2 440 L576.5 445.8 L595.7 450.8 L595.7 510 L470 510Z"/></clipPath>
<path id="cp50" d="M473 349.57 L477.24 349.66 L481.48 349.76 L485.72 349.87 L489.95 350 L494.19 350.13 L498.43 350.28 L502.67 350.43 L506.91 350.6 L511.15 350.78 L515.38 350.97 L519.62 351.17 L523.86 351.39 L528.1 351.62 L532.34 351.86 L536.58 352.11 L540.82 352.38 L545.05 352.66 L549.29 352.96 L553.53 353.27 L557.77 353.6 L562.01 353.94 L566.25 354.29 L570.48 354.66 L574.72 355.05 L578.96 355.45 L583.2 355.86 L587.44 356.3 L591.68 356.75 L595.92 357.21 L600.15 357.7 L604.39 358.2 L608.63 358.72 L612.87 359.25 L617.11 359.81 L621.35 360.38 L625.58 360.97 L629.82 361.59 L634.06 362.21 L638.3 362.86M473 371.27 L476.82 371.33 L480.64 371.39 L484.46 371.46 L488.28 371.54 L492.1 371.63 L495.92 371.72 L499.74 371.82 L503.56 371.93 L507.38 372.05 L511.21 372.18 L515.03 372.32 L518.85 372.47 L522.67 372.63 L526.49 372.8 L530.31 372.99 L534.13 373.19 L537.95 373.4 L541.77 373.62 L545.59 373.86 L549.41 374.12 L553.23 374.38 L557.05 374.67 L560.87 374.97 L564.69 375.28 L568.51 375.62 L572.33 375.97 L576.15 376.34 L579.97 376.73 L583.79 377.13 L587.62 377.56 L591.44 378.01 L595.26 378.47 L599.08 378.96 L602.9 379.47 L606.72 380 L610.54 380.55 L614.36 381.13 L618.18 381.73 L622 382.35M473 390.52 L477.03 390.89 L481.05 391.23 L485.08 391.54 L489.1 391.82 L493.13 392.08 L497.15 392.31 L501.18 392.53 L505.21 392.73 L509.23 392.91 L513.26 393.08 L517.28 393.24 L521.31 393.38 L525.33 393.52 L529.36 393.65 L533.38 393.79 L537.41 393.91 L541.44 394.04 L545.46 394.18 L549.49 394.31 L553.51 394.46 L557.54 394.61 L561.56 394.77 L565.59 394.95 L569.62 395.14 L573.64 395.35 L577.67 395.58 L581.69 395.83 L585.72 396.11 L589.74 396.41 L593.77 396.74 L597.79 397.1 L601.82 397.49 L605.85 397.91 L609.87 398.37 L613.9 398.87 L617.92 399.41 L621.95 399.99 L625.97 400.62 L630 401.29M473 401.61 L478.98 402.21 L484.95 402.77 L490.93 403.28 L496.91 403.75 L502.88 404.19 L508.86 404.6 L514.84 404.99 L520.82 405.35 L526.79 405.7 L532.77 406.03 L538.75 406.35 L544.72 406.67 L550.7 406.99 L556.68 407.31 L562.65 407.64 L568.63 407.98 L574.61 408.34 L580.58 408.72 L586.56 409.13 L592.54 409.56 L598.52 410.03 L604.49 410.54 L610.47 411.09 L616.45 411.69 L622.42 412.33 L628.4 413.03 L634.38 413.8 L640.35 414.62 L646.33 415.51 L652.31 416.48 L658.28 417.52 L664.26 418.64 L670.24 419.85 L676.22 421.14 L682.19 422.53 L688.17 424.02 L694.15 425.61 L700.12 427.3 L706.1 429.11M473 410.2 L478.88 410.48 L484.77 410.75 L490.65 411.01 L496.54 411.25 L502.42 411.49 L508.31 411.73 L514.19 411.96 L520.08 412.19 L525.96 412.43 L531.85 412.68 L537.73 412.94 L543.62 413.21 L549.5 413.5 L555.38 413.81 L561.27 414.13 L567.15 414.49 L573.04 414.87 L578.92 415.28 L584.81 415.73 L590.69 416.21 L596.58 416.73 L602.46 417.3 L608.35 417.91 L614.23 418.57 L620.12 419.28 L626 420.04 L631.88 420.86 L637.77 421.74 L643.65 422.68 L649.54 423.69 L655.42 424.77 L661.31 425.92 L667.19 427.14 L673.08 428.44 L678.96 429.82 L684.85 431.28 L690.73 432.83 L696.62 434.47 L702.5 436.2M473 421.29 L479.37 421.27 L485.75 421.28 L492.12 421.32 L498.5 421.39 L504.87 421.48 L511.25 421.61 L517.62 421.77 L523.99 421.96 L530.37 422.18 L536.74 422.43 L543.12 422.72 L549.49 423.04 L555.87 423.39 L562.24 423.78 L568.62 424.2 L574.99 424.66 L581.36 425.16 L587.74 425.69 L594.11 426.26 L600.49 426.87 L606.86 427.51 L613.24 428.2 L619.61 428.93 L625.98 429.69 L632.36 430.5 L638.73 431.34 L645.11 432.23 L651.48 433.17 L657.86 434.14 L664.23 435.16 L670.61 436.22 L676.98 437.33 L683.35 438.48 L689.73 439.68 L696.1 440.93 L702.48 442.22 L708.85 443.56 L715.23 444.95 L721.6 446.39M473 428.5 L480.68 428.56 L488.35 428.68 L496.03 428.86 L503.71 429.1 L511.38 429.4 L519.06 429.76 L526.74 430.18 L534.42 430.65 L542.09 431.19 L549.77 431.79 L557.45 432.46 L565.12 433.18 L572.8 433.97 L580.48 434.81 L588.15 435.73 L595.83 436.7 L603.51 437.74 L611.18 438.84 L618.86 440.01 L626.54 441.24 L634.22 442.53 L641.89 443.89 L649.57 445.32 L657.25 446.81 L664.92 448.37 L672.6 449.99 L680.28 451.68 L687.95 453.44 L695.63 455.27 L703.31 457.16 L710.98 459.12 L718.66 461.15 L726.34 463.25 L734.02 465.42 L741.69 467.66 L749.37 469.96 L757.05 472.34 L764.72 474.79 L772.4 477.3M473 437.14 L481 437.05 L488.99 437.02 L496.99 437.03 L504.99 437.1 L512.99 437.23 L520.98 437.42 L528.98 437.66 L536.98 437.97 L544.98 438.35 L552.97 438.79 L560.97 439.29 L568.97 439.87 L576.97 440.52 L584.96 441.23 L592.96 442.03 L600.96 442.9 L608.96 443.84 L616.95 444.87 L624.95 445.98 L632.95 447.17 L640.95 448.44 L648.94 449.8 L656.94 451.25 L664.94 452.79 L672.94 454.42 L680.93 456.15 L688.93 457.96 L696.93 459.88 L704.93 461.89 L712.92 464 L720.92 466.22 L728.92 468.54 L736.92 470.96 L744.91 473.49 L752.91 476.13 L760.91 478.88 L768.91 481.74 L776.9 484.72 L784.9 487.81M473 445.29 L480.76 445.48 L488.52 445.66 L496.28 445.83 L504.05 446 L511.81 446.18 L519.57 446.38 L527.33 446.6 L535.09 446.85 L542.85 447.13 L550.62 447.46 L558.38 447.83 L566.14 448.26 L573.9 448.74 L581.66 449.29 L589.42 449.91 L597.18 450.61 L604.95 451.38 L612.71 452.24 L620.47 453.19 L628.23 454.23 L635.99 455.38 L643.75 456.62 L651.52 457.97 L659.28 459.44 L667.04 461.01 L674.8 462.71 L682.56 464.53 L690.32 466.47 L698.08 468.54 L705.85 470.74 L713.61 473.07 L721.37 475.54 L729.13 478.15 L736.89 480.9 L744.65 483.8 L752.42 486.83 L760.18 490.02 L767.94 493.35 L775.7 496.83" fill="none"/>
</defs>
<g opacity="0.56" clip-path="url(#p10p50)">
<use href="#bp50" fill="#29b8c8"/>
<g clip-path="url(#p75p50)"><use href="#bp50" fill="#2680c2"/></g>
<g clip-path="url(#p5p50)"><use href="#bp50" fill="#27408f"/></g>
</g>
<g clip-path="url(#cbp50)" fill="none" stroke-width="1"><g clip-path="url(#p10p50)">
<use href="#gp50" stroke="#8fb3c0"/>
<g clip-path="url(#p75p50)"><use href="#gp50" stroke="#7d8cb9"/>
<g clip-path="url(#p5p50)"><use href="#gp50" stroke="#6b649b"/></g></g>
</g></g>
<g stroke-linecap="butt">
<g clip-path="url(#x10p50)"><use href="#cp50" stroke="#22a9bd" stroke-width="1"/></g>
<g clip-path="url(#x75p50)"><use href="#cp50" stroke="#1b6fb5" stroke-width="1.1"/></g>
<g clip-path="url(#p5p50)"><use href="#cp50" stroke="#1e2d8c" stroke-width="1.2"/></g>
</g>
<g clip-path="url(#cbp50)"><polygon points="470,340 541.2,340 541.2,352.5 539.1,373.3 560.7,394.1 584.9,408.2 614.6,420.8 614.6,429.1 678.2,454.1 696.5,468.3 696.5,510 470,510" fill="none" stroke="#22a9bd" stroke-width="0.7"/></g>
<path d="M0 250.3 H360 V74 H357 V248 H0 Z" fill="#000"/>
<path d="M833.2 250.5 H471 V74 H475 V248.3 H833.2 Z" fill="#000"/>
<path d="M0 498 H360.1 V322 H356.5 V495.7 H0 Z" fill="#000"/>
<path d="M832.2 499.3 H471 V323 H475 V497 H832.2 Z" fill="#000"/>
<text x="4.5" y="262.5" font-size="10.6" fill="#000" textLength="24.2" lengthAdjust="spacingAndGlyphs" stroke="#000" stroke-width="0.15">1000</text>
<text x="4.5" y="275.7" font-size="10.6" fill="#4a4a4a" textLength="24.6" lengthAdjust="spacingAndGlyphs">1699</text>
<text x="85.3" y="262.5" font-size="10.6" fill="#000" text-anchor="middle" textLength="18.6" lengthAdjust="spacingAndGlyphs" stroke="#000" stroke-width="0.15">800</text>
<text x="85.1" y="275.7" font-size="10.6" fill="#4a4a4a" text-anchor="middle" textLength="24.4" lengthAdjust="spacingAndGlyphs">1359</text>
<text x="154.2" y="262.5" font-size="10.6" fill="#000" text-anchor="middle" textLength="18.6" lengthAdjust="spacingAndGlyphs" stroke="#000" stroke-width="0.15">600</text>
<text x="154.6" y="275.7" font-size="10.6" fill="#4a4a4a" text-anchor="middle" textLength="24.4" lengthAdjust="spacingAndGlyphs">1010</text>
<text x="222.2" y="262.5" font-size="10.6" fill="#000" text-anchor="middle" textLength="18.6" lengthAdjust="spacingAndGlyphs" stroke="#000" stroke-width="0.15">400</text>
<text x="222.6" y="275.7" font-size="10.6" fill="#4a4a4a" text-anchor="middle" textLength="18.2" lengthAdjust="spacingAndGlyphs">680</text>
<text x="291.1" y="262.5" font-size="10.6" fill="#000" text-anchor="middle" textLength="18.6" lengthAdjust="spacingAndGlyphs" stroke="#000" stroke-width="0.15">200</text>
<text x="291.4" y="275.7" font-size="10.6" fill="#4a4a4a" text-anchor="middle" textLength="18.2" lengthAdjust="spacingAndGlyphs">340</text>
<text x="328.4" y="262.5" font-size="9.4" fill="#000" font-weight="bold" text-anchor="middle" textLength="17.2" lengthAdjust="spacingAndGlyphs">CFM</text>
<text x="328.4" y="274.4" font-size="9.2" fill="#4a4a4a" text-anchor="middle" textLength="20.2" lengthAdjust="spacingAndGlyphs">m³/hr</text>
<text x="542.4" y="262.5" font-size="10.6" fill="#000" text-anchor="middle" textLength="18.6" lengthAdjust="spacingAndGlyphs" stroke="#000" stroke-width="0.15">200</text>
<text x="542.2" y="275.7" font-size="10.6" fill="#4a4a4a" text-anchor="middle" textLength="18.2" lengthAdjust="spacingAndGlyphs">340</text>
<text x="609.2" y="262.5" font-size="10.6" fill="#000" text-anchor="middle" textLength="18.6" lengthAdjust="spacingAndGlyphs" stroke="#000" stroke-width="0.15">400</text>
<text x="609" y="275.7" font-size="10.6" fill="#4a4a4a" text-anchor="middle" textLength="18.2" lengthAdjust="spacingAndGlyphs">680</text>
<text x="677.8" y="262.5" font-size="10.6" fill="#000" text-anchor="middle" textLength="18.6" lengthAdjust="spacingAndGlyphs" stroke="#000" stroke-width="0.15">600</text>
<text x="676.4" y="275.7" font-size="10.6" fill="#4a4a4a" text-anchor="middle" textLength="24.2" lengthAdjust="spacingAndGlyphs">1019</text>
<text x="745.2" y="262.5" font-size="10.6" fill="#000" text-anchor="middle" textLength="18.6" lengthAdjust="spacingAndGlyphs" stroke="#000" stroke-width="0.15">800</text>
<text x="745" y="275.7" font-size="10.6" fill="#4a4a4a" text-anchor="middle" textLength="24.2" lengthAdjust="spacingAndGlyphs">1359</text>
<text x="815.1" y="262.5" font-size="10.6" fill="#000" text-anchor="middle" textLength="24.2" lengthAdjust="spacingAndGlyphs" stroke="#000" stroke-width="0.15">1000</text>
<text x="815.1" y="275.7" font-size="10.6" fill="#4a4a4a" text-anchor="middle" textLength="24.2" lengthAdjust="spacingAndGlyphs">1699</text>
<text x="507" y="262.5" font-size="9.4" fill="#000" font-weight="bold" text-anchor="middle" textLength="16.6" lengthAdjust="spacingAndGlyphs">CFM</text>
<text x="506.8" y="274.4" font-size="9.2" fill="#4a4a4a" text-anchor="middle" textLength="20" lengthAdjust="spacingAndGlyphs">m³/hr</text>
<polygon points="368,251.9 375,251.9 371.5,246.6" fill="#111"/>
<text x="378.9" y="258.3" font-size="5.6" fill="#000" font-weight="bold" text-anchor="end" textLength="14.9" lengthAdjust="spacingAndGlyphs">RPM</text>
<text x="378.9" y="265.4" font-size="5.6" fill="#000" font-weight="bold" text-anchor="end" textLength="21.8" lengthAdjust="spacingAndGlyphs">X 1000</text>
<text x="379.4" y="271.1" font-size="4.9" fill="#d0021b" font-weight="bold" text-anchor="end" textLength="28" lengthAdjust="spacingAndGlyphs">Pulley Size</text>
<text x="378.9" y="277.6" font-size="4.9" fill="#d0021b" font-weight="bold" text-anchor="end" textLength="23.4" lengthAdjust="spacingAndGlyphs">In Inches</text>
<polygon points="461.7,251.9 468.7,251.9 465.2,246.6" fill="#111"/>
<text x="474.3" y="258.3" font-size="5.6" fill="#000" font-weight="bold" text-anchor="end" textLength="14.9" lengthAdjust="spacingAndGlyphs">RPM</text>
<text x="474.3" y="265.4" font-size="5.6" fill="#000" font-weight="bold" text-anchor="end" textLength="21.8" lengthAdjust="spacingAndGlyphs">X 1000</text>
<text x="474.8" y="271.1" font-size="4.9" fill="#d0021b" font-weight="bold" text-anchor="end" textLength="28" lengthAdjust="spacingAndGlyphs">Pulley Size</text>
<text x="474.3" y="277.6" font-size="4.9" fill="#d0021b" font-weight="bold" text-anchor="end" textLength="23.4" lengthAdjust="spacingAndGlyphs">In Inches</text>
<text x="4.5" y="509.6" font-size="10.6" fill="#000" textLength="24.2" lengthAdjust="spacingAndGlyphs" stroke="#000" stroke-width="0.15">1000</text>
<text x="4.5" y="522.6" font-size="10.6" fill="#4a4a4a" textLength="24.6" lengthAdjust="spacingAndGlyphs">1699</text>
<text x="85.3" y="509.6" font-size="10.6" fill="#000" text-anchor="middle" textLength="18.6" lengthAdjust="spacingAndGlyphs" stroke="#000" stroke-width="0.15">800</text>
<text x="85.1" y="522.6" font-size="10.6" fill="#4a4a4a" text-anchor="middle" textLength="24.4" lengthAdjust="spacingAndGlyphs">1359</text>
<text x="154.2" y="509.6" font-size="10.6" fill="#000" text-anchor="middle" textLength="18.6" lengthAdjust="spacingAndGlyphs" stroke="#000" stroke-width="0.15">600</text>
<text x="154.6" y="522.6" font-size="10.6" fill="#4a4a4a" text-anchor="middle" textLength="24.4" lengthAdjust="spacingAndGlyphs">1010</text>
<text x="222.2" y="509.6" font-size="10.6" fill="#000" text-anchor="middle" textLength="18.6" lengthAdjust="spacingAndGlyphs" stroke="#000" stroke-width="0.15">400</text>
<text x="222.6" y="522.6" font-size="10.6" fill="#4a4a4a" text-anchor="middle" textLength="18.2" lengthAdjust="spacingAndGlyphs">680</text>
<text x="291.1" y="509.6" font-size="10.6" fill="#000" text-anchor="middle" textLength="18.6" lengthAdjust="spacingAndGlyphs" stroke="#000" stroke-width="0.15">200</text>
<text x="291.4" y="522.6" font-size="10.6" fill="#4a4a4a" text-anchor="middle" textLength="18.2" lengthAdjust="spacingAndGlyphs">340</text>
<text x="326.9" y="509.6" font-size="9.4" fill="#000" font-weight="bold" text-anchor="middle" textLength="17.2" lengthAdjust="spacingAndGlyphs">CFM</text>
<text x="326.45" y="521.3" font-size="9.2" fill="#4a4a4a" text-anchor="middle" textLength="21.7" lengthAdjust="spacingAndGlyphs">m³/hr</text>
<text x="542.4" y="509.6" font-size="10.6" fill="#000" text-anchor="middle" textLength="18.6" lengthAdjust="spacingAndGlyphs" stroke="#000" stroke-width="0.15">200</text>
<text x="542.2" y="522.6" font-size="10.6" fill="#4a4a4a" text-anchor="middle" textLength="18.2" lengthAdjust="spacingAndGlyphs">340</text>
<text x="609.2" y="509.6" font-size="10.6" fill="#000" text-anchor="middle" textLength="18.6" lengthAdjust="spacingAndGlyphs" stroke="#000" stroke-width="0.15">400</text>
<text x="609" y="522.6" font-size="10.6" fill="#4a4a4a" text-anchor="middle" textLength="18.2" lengthAdjust="spacingAndGlyphs">680</text>
<text x="677.8" y="509.6" font-size="10.6" fill="#000" text-anchor="middle" textLength="18.6" lengthAdjust="spacingAndGlyphs" stroke="#000" stroke-width="0.15">600</text>
<text x="676.4" y="522.6" font-size="10.6" fill="#4a4a4a" text-anchor="middle" textLength="24.2" lengthAdjust="spacingAndGlyphs">1019</text>
<text x="745.2" y="509.6" font-size="10.6" fill="#000" text-anchor="middle" textLength="18.6" lengthAdjust="spacingAndGlyphs" stroke="#000" stroke-width="0.15">800</text>
<text x="745" y="522.6" font-size="10.6" fill="#4a4a4a" text-anchor="middle" textLength="24.2" lengthAdjust="spacingAndGlyphs">1359</text>
<text x="815.1" y="509.6" font-size="10.6" fill="#000" text-anchor="middle" textLength="24.2" lengthAdjust="spacingAndGlyphs" stroke="#000" stroke-width="0.15">1000</text>
<text x="815.1" y="522.6" font-size="10.6" fill="#4a4a4a" text-anchor="middle" textLength="24.2" lengthAdjust="spacingAndGlyphs">1699</text>
<text x="507" y="509.6" font-size="9.4" fill="#000" font-weight="bold" text-anchor="middle" textLength="16.6" lengthAdjust="spacingAndGlyphs">CFM</text>
<text x="506.8" y="521.3" font-size="9.2" fill="#4a4a4a" text-anchor="middle" textLength="20" lengthAdjust="spacingAndGlyphs">m³/hr</text>
<polygon points="368,499 375,499 371.5,493.7" fill="#111"/>
<text x="378.9" y="506.8" font-size="5.6" fill="#000" font-weight="bold" text-anchor="end" textLength="14.9" lengthAdjust="spacingAndGlyphs">RPM</text>
<text x="378.9" y="512.1" font-size="5.6" fill="#000" font-weight="bold" text-anchor="end" textLength="21.8" lengthAdjust="spacingAndGlyphs">X 1000</text>
<text x="379.4" y="518.1" font-size="4.9" fill="#d0021b" font-weight="bold" text-anchor="end" textLength="28" lengthAdjust="spacingAndGlyphs">Pulley Size</text>
<text x="378.9" y="525.2" font-size="4.9" fill="#d0021b" font-weight="bold" text-anchor="end" textLength="23.4" lengthAdjust="spacingAndGlyphs">In Inches</text>
<polygon points="461.7,499 468.7,499 465.2,493.7" fill="#111"/>
<text x="474.3" y="506.8" font-size="5.6" fill="#000" font-weight="bold" text-anchor="end" textLength="14.9" lengthAdjust="spacingAndGlyphs">RPM</text>
<text x="474.3" y="512.1" font-size="5.6" fill="#000" font-weight="bold" text-anchor="end" textLength="21.8" lengthAdjust="spacingAndGlyphs">X 1000</text>
<text x="474.8" y="518.1" font-size="4.9" fill="#d0021b" font-weight="bold" text-anchor="end" textLength="28" lengthAdjust="spacingAndGlyphs">Pulley Size</text>
<text x="474.3" y="525.2" font-size="4.9" fill="#d0021b" font-weight="bold" text-anchor="end" textLength="23.4" lengthAdjust="spacingAndGlyphs">In Inches</text>
<text x="385.8" y="68.6" font-size="10.4" fill="#333" textLength="23.4" lengthAdjust="spacingAndGlyphs">mBar</text>
<rect x="387" y="69.5" width="23.6" height="1" fill="#111"/>
<text x="421.4" y="68.6" font-size="10.4" fill="#27318b" stroke="#27318b" stroke-width="0.2" textLength="27" lengthAdjust="spacingAndGlyphs">in H<tspan font-size="5.6" dy="2">2</tspan><tspan dy="-2">O</tspan></text>
<rect x="422" y="69.5" width="23.6" height="1" fill="#111"/>
<text x="385.8" y="316.8" font-size="10.4" fill="#333" textLength="23.4" lengthAdjust="spacingAndGlyphs">mBar</text>
<rect x="386.1" y="320" width="22.9" height="1" fill="#111"/>
<text x="418.6" y="316.8" font-size="10.4" fill="#27318b" stroke="#27318b" stroke-width="0.2" textLength="27" lengthAdjust="spacingAndGlyphs">in H<tspan font-size="5.6" dy="2">2</tspan><tspan dy="-2">O</tspan></text>
<rect x="420.4" y="320" width="23.4" height="1" fill="#111"/>
<text x="399.1" y="81" font-size="10.8" fill="#505050" text-anchor="middle" textLength="18.15" lengthAdjust="spacingAndGlyphs">274</text>
<text x="433.6" y="81" font-size="10.8" fill="#27318b" text-anchor="middle" textLength="17.7" lengthAdjust="spacingAndGlyphs">110</text>
<text x="399.1" y="96.65" font-size="10.8" fill="#505050" text-anchor="middle" textLength="18.15" lengthAdjust="spacingAndGlyphs">249</text>
<text x="433.6" y="96.65" font-size="10.8" fill="#27318b" text-anchor="middle" textLength="17.7" lengthAdjust="spacingAndGlyphs">100</text>
<text x="399.1" y="112.3" font-size="10.8" fill="#505050" text-anchor="middle" textLength="18.15" lengthAdjust="spacingAndGlyphs">224</text>
<text x="433.6" y="112.3" font-size="10.8" fill="#27318b" text-anchor="middle" textLength="11.8" lengthAdjust="spacingAndGlyphs">90</text>
<text x="399.1" y="127.95" font-size="10.8" fill="#505050" text-anchor="middle" textLength="18.15" lengthAdjust="spacingAndGlyphs">199</text>
<text x="433.6" y="127.95" font-size="10.8" fill="#27318b" text-anchor="middle" textLength="11.8" lengthAdjust="spacingAndGlyphs">80</text>
<text x="399.1" y="143.6" font-size="10.8" fill="#505050" text-anchor="middle" textLength="18.15" lengthAdjust="spacingAndGlyphs">174</text>
<text x="433.6" y="143.6" font-size="10.8" fill="#27318b" text-anchor="middle" textLength="11.8" lengthAdjust="spacingAndGlyphs">70</text>
<text x="399.1" y="159.25" font-size="10.8" fill="#505050" text-anchor="middle" textLength="18.15" lengthAdjust="spacingAndGlyphs">149</text>
<text x="433.6" y="159.25" font-size="10.8" fill="#27318b" text-anchor="middle" textLength="11.8" lengthAdjust="spacingAndGlyphs">60</text>
<text x="399.1" y="174.9" font-size="10.8" fill="#505050" text-anchor="middle" textLength="18.15" lengthAdjust="spacingAndGlyphs">124</text>
<text x="433.6" y="174.9" font-size="10.8" fill="#27318b" text-anchor="middle" textLength="11.8" lengthAdjust="spacingAndGlyphs">50</text>
<text x="399.1" y="190.55" font-size="10.8" fill="#505050" text-anchor="middle" textLength="18.15" lengthAdjust="spacingAndGlyphs">100</text>
<text x="433.6" y="190.55" font-size="10.8" fill="#27318b" text-anchor="middle" textLength="11.8" lengthAdjust="spacingAndGlyphs">40</text>
<text x="400.4" y="206.2" font-size="10.8" fill="#505050" text-anchor="middle" textLength="12.1" lengthAdjust="spacingAndGlyphs">74</text>
<text x="433.6" y="206.2" font-size="10.8" fill="#27318b" text-anchor="middle" textLength="11.8" lengthAdjust="spacingAndGlyphs">30</text>
<text x="400.4" y="221.85" font-size="10.8" fill="#505050" text-anchor="middle" textLength="12.1" lengthAdjust="spacingAndGlyphs">50</text>
<text x="433.6" y="221.85" font-size="10.8" fill="#27318b" text-anchor="middle" textLength="11.8" lengthAdjust="spacingAndGlyphs">20</text>
<text x="400.4" y="237.5" font-size="10.8" fill="#505050" text-anchor="middle" textLength="12.1" lengthAdjust="spacingAndGlyphs">25</text>
<text x="433.6" y="237.5" font-size="10.8" fill="#27318b" text-anchor="middle" textLength="11.8" lengthAdjust="spacingAndGlyphs">10</text>
<text x="399.3" y="342.8" font-size="10.8" fill="#505050" text-anchor="middle" textLength="18.15" lengthAdjust="spacingAndGlyphs">240</text>
<text x="434" y="342.8" font-size="10.8" fill="#27318b" text-anchor="middle" textLength="12.2" lengthAdjust="spacingAndGlyphs">90</text>
<text x="399.3" y="360.75" font-size="10.8" fill="#505050" text-anchor="middle" textLength="18.15" lengthAdjust="spacingAndGlyphs">199</text>
<text x="434" y="360.75" font-size="10.8" fill="#27318b" text-anchor="middle" textLength="12.2" lengthAdjust="spacingAndGlyphs">80</text>
<text x="399.3" y="378.7" font-size="10.8" fill="#505050" text-anchor="middle" textLength="18.15" lengthAdjust="spacingAndGlyphs">174</text>
<text x="434" y="378.7" font-size="10.8" fill="#27318b" text-anchor="middle" textLength="12.2" lengthAdjust="spacingAndGlyphs">70</text>
<text x="399.3" y="396.65" font-size="10.8" fill="#505050" text-anchor="middle" textLength="18.15" lengthAdjust="spacingAndGlyphs">149</text>
<text x="434" y="396.65" font-size="10.8" fill="#27318b" text-anchor="middle" textLength="12.2" lengthAdjust="spacingAndGlyphs">60</text>
<text x="399.3" y="414.6" font-size="10.8" fill="#505050" text-anchor="middle" textLength="18.15" lengthAdjust="spacingAndGlyphs">124</text>
<text x="434" y="414.6" font-size="10.8" fill="#27318b" text-anchor="middle" textLength="12.2" lengthAdjust="spacingAndGlyphs">50</text>
<text x="399.3" y="432.55" font-size="10.8" fill="#505050" text-anchor="middle" textLength="18.15" lengthAdjust="spacingAndGlyphs">100</text>
<text x="434" y="432.55" font-size="10.8" fill="#27318b" text-anchor="middle" textLength="12.2" lengthAdjust="spacingAndGlyphs">40</text>
<text x="400.6" y="450.5" font-size="10.8" fill="#505050" text-anchor="middle" textLength="12.1" lengthAdjust="spacingAndGlyphs">74</text>
<text x="434" y="450.5" font-size="10.8" fill="#27318b" text-anchor="middle" textLength="12.2" lengthAdjust="spacingAndGlyphs">30</text>
<text x="400.6" y="468.45" font-size="10.8" fill="#505050" text-anchor="middle" textLength="12.1" lengthAdjust="spacingAndGlyphs">50</text>
<text x="434" y="468.45" font-size="10.8" fill="#27318b" text-anchor="middle" textLength="12.2" lengthAdjust="spacingAndGlyphs">20</text>
<text x="400.6" y="486.4" font-size="10.8" fill="#505050" text-anchor="middle" textLength="12.1" lengthAdjust="spacingAndGlyphs">25</text>
<text x="434" y="486.4" font-size="10.8" fill="#27318b" text-anchor="middle" textLength="12.2" lengthAdjust="spacingAndGlyphs">10</text>
<text x="363.6" y="130.3" font-size="5.5" font-weight="bold" textLength="22.2" lengthAdjust="spacingAndGlyphs">18.7/<tspan fill="#d0021b">1.45</tspan></text>
<text x="363.6" y="146.1" font-size="5.5" font-weight="bold" textLength="22.2" lengthAdjust="spacingAndGlyphs">17.3/<tspan fill="#d0021b">1.55</tspan></text>
<text x="363.6" y="155.7" font-size="5.5" font-weight="bold" textLength="22.2" lengthAdjust="spacingAndGlyphs">16.2/<tspan fill="#d0021b">1.65</tspan></text>
<text x="363.6" y="162.6" font-size="5.5" font-weight="bold" textLength="22.2" lengthAdjust="spacingAndGlyphs">15.3/<tspan fill="#d0021b">1.75</tspan></text>
<text x="363.6" y="171.2" font-size="5.5" font-weight="bold" textLength="22.2" lengthAdjust="spacingAndGlyphs">14.5/<tspan fill="#d0021b">1.85</tspan></text>
<text x="363.6" y="177.7" font-size="5.5" font-weight="bold" textLength="22.2" lengthAdjust="spacingAndGlyphs">13.7/<tspan fill="#d0021b">1.95</tspan></text>
<text x="363.6" y="183.8" font-size="5.5" font-weight="bold" textLength="22.2" lengthAdjust="spacingAndGlyphs">13.0/<tspan fill="#d0021b">2.05</tspan></text>
<text x="363.6" y="190.3" font-size="5.5" font-weight="bold" textLength="22.2" lengthAdjust="spacingAndGlyphs">12.4/<tspan fill="#d0021b">2.15</tspan></text>
<text x="363.6" y="199.9" font-size="5.5" font-weight="bold" textLength="22.2" lengthAdjust="spacingAndGlyphs">11.9/<tspan fill="#d0021b">2.25</tspan></text>
<text x="445.6" y="92.9" font-size="5.5" font-weight="bold" textLength="22.2" lengthAdjust="spacingAndGlyphs">18.7/ <tspan fill="#d0021b">1.45</tspan></text>
<text x="445.6" y="112.7" font-size="5.5" font-weight="bold" textLength="22.2" lengthAdjust="spacingAndGlyphs">17.3/ <tspan fill="#d0021b">1.55</tspan></text>
<text x="445.6" y="135.7" font-size="5.5" font-weight="bold" textLength="22.2" lengthAdjust="spacingAndGlyphs">16.2/ <tspan fill="#d0021b">1.65</tspan></text>
<text x="445.6" y="147.2" font-size="5.5" font-weight="bold" textLength="22.2" lengthAdjust="spacingAndGlyphs">15.3/ <tspan fill="#d0021b">1.75</tspan></text>
<text x="445.6" y="154.1" font-size="5.5" font-weight="bold" textLength="22.2" lengthAdjust="spacingAndGlyphs">14.5/ <tspan fill="#d0021b">1.85</tspan></text>
<text x="445.6" y="170.5" font-size="5.5" font-weight="bold" textLength="22.2" lengthAdjust="spacingAndGlyphs">13.7/ <tspan fill="#d0021b">1.95</tspan></text>
<text x="445.6" y="179.1" font-size="5.5" font-weight="bold" textLength="22.2" lengthAdjust="spacingAndGlyphs">13.0/ <tspan fill="#d0021b">2.05</tspan></text>
<text x="445.6" y="186.9" font-size="5.5" font-weight="bold" textLength="22.2" lengthAdjust="spacingAndGlyphs">12.4/ <tspan fill="#d0021b">2.15</tspan></text>
<text x="445.6" y="194.9" font-size="5.5" font-weight="bold" textLength="22.2" lengthAdjust="spacingAndGlyphs">11.9/ <tspan fill="#d0021b">2.25</tspan></text>
<text x="363.8" y="378.6" font-size="5.5" font-weight="bold" font-style="italic" textLength="22.4" lengthAdjust="spacingAndGlyphs">15.7/<tspan fill="#d0021b">1.45</tspan></text>
<text x="363.8" y="396.9" font-size="5.5" font-weight="bold" font-style="italic" textLength="22.4" lengthAdjust="spacingAndGlyphs">14.7/<tspan fill="#d0021b">1.55</tspan></text>
<text x="363.8" y="408" font-size="5.5" font-weight="bold" font-style="italic" textLength="22.4" lengthAdjust="spacingAndGlyphs">12.8/<tspan fill="#d0021b">1.65</tspan></text>
<text x="363.8" y="413.7" font-size="5.5" font-weight="bold" font-style="italic" textLength="22.4" lengthAdjust="spacingAndGlyphs">12.1/<tspan fill="#d0021b">1.75</tspan></text>
<text x="363.8" y="425.7" font-size="5.5" font-weight="bold" font-style="italic" textLength="22.4" lengthAdjust="spacingAndGlyphs">12.4/<tspan fill="#d0021b">1.85</tspan></text>
<text x="363.8" y="431.8" font-size="5.5" font-weight="bold" font-style="italic" textLength="22.4" lengthAdjust="spacingAndGlyphs">11.7/<tspan fill="#d0021b">1.95</tspan></text>
<text x="363.8" y="440" font-size="5.5" font-weight="bold" font-style="italic" textLength="22.4" lengthAdjust="spacingAndGlyphs">11.1/<tspan fill="#d0021b">2.05</tspan></text>
<text x="363.8" y="448.9" font-size="5.5" font-weight="bold" font-style="italic" textLength="22.4" lengthAdjust="spacingAndGlyphs">10.6/<tspan fill="#d0021b">2.15</tspan></text>
<text x="363.8" y="457.9" font-size="5.5" font-weight="bold" font-style="italic" textLength="22.4" lengthAdjust="spacingAndGlyphs">10.2/<tspan fill="#d0021b">2.25</tspan></text>
<text x="445" y="351.9" font-size="5.5" font-weight="bold" font-style="italic" textLength="23.2" lengthAdjust="spacingAndGlyphs">18.3/<tspan fill="#d0021b">1.25</tspan></text>
<text x="445" y="371.9" font-size="5.5" font-weight="bold" font-style="italic" textLength="23.2" lengthAdjust="spacingAndGlyphs">16.9/<tspan fill="#d0021b">1.35</tspan></text>
<text x="445" y="390.9" font-size="5.5" font-weight="bold" font-style="italic" textLength="23.2" lengthAdjust="spacingAndGlyphs">15.8/<tspan fill="#d0021b">1.45</tspan></text>
<text x="445" y="403.7" font-size="5.5" font-weight="bold" font-style="italic" textLength="23.2" lengthAdjust="spacingAndGlyphs">14.8/<tspan fill="#d0021b">1.55</tspan></text>
<text x="445" y="411.9" font-size="5.5" font-weight="bold" font-style="italic" textLength="23.2" lengthAdjust="spacingAndGlyphs">13.9/<tspan fill="#d0021b">1.65</tspan></text>
<text x="445" y="422.8" font-size="5.5" font-weight="bold" font-style="italic" textLength="23.2" lengthAdjust="spacingAndGlyphs">13.1/<tspan fill="#d0021b">1.75</tspan></text>
<text x="445" y="430.8" font-size="5.5" font-weight="bold" font-style="italic" textLength="23.2" lengthAdjust="spacingAndGlyphs">12.4/<tspan fill="#d0021b">1.85</tspan></text>
<text x="445" y="437.5" font-size="5.5" font-weight="bold" font-style="italic" textLength="23.2" lengthAdjust="spacingAndGlyphs">11.8/<tspan fill="#d0021b">1.95</tspan></text>
<text x="445" y="446.8" font-size="5.5" font-weight="bold" font-style="italic" textLength="23.2" lengthAdjust="spacingAndGlyphs">11.2/<tspan fill="#d0021b">2.05</tspan></text>
<text x="299.2" y="556" font-size="8.7" fill="#000" textLength="235.6" lengthAdjust="spacingAndGlyphs" stroke="#000" stroke-width="0.22">Standard cubic feet per minute, air at 14.7 PSIA, 68°F, 36% R.H.</text>
<text x="318.3" y="566.4" font-size="8.7" fill="#000" stroke="#000" stroke-width="0.22" textLength="198.2" lengthAdjust="spacingAndGlyphs">1”H<tspan font-size="5" dy="2">2</tspan><tspan dy="-2">O=0.074” Hg=0.036 PSIG=0.57 oz=25.4 mm H</tspan><tspan font-size="5" dy="2">2</tspan><tspan dy="-2">O</tspan></text>
<rect x="323" y="581.3" width="11.6" height="10.5" fill="#27408f"/>
<text x="339.1" y="591.7" font-size="8.4" fill="#000" textLength="14.7" lengthAdjust="spacingAndGlyphs" stroke="#000" stroke-width="0.22">5HP</text>
<rect x="392.2" y="581.3" width="11.7" height="10.5" fill="#2680c2"/>
<text x="409.8" y="591.7" font-size="8.4" fill="#000" textLength="21.7" lengthAdjust="spacingAndGlyphs" stroke="#000" stroke-width="0.22">7.5HP</text>
<rect x="470.3" y="581.3" width="12.6" height="10.5" fill="#27b6c6"/>
<text x="490.4" y="591.7" font-size="8.4" fill="#000" textLength="19.3" lengthAdjust="spacingAndGlyphs" stroke="#000" stroke-width="0.22">10HP</text>
</svg>
</body></html>
